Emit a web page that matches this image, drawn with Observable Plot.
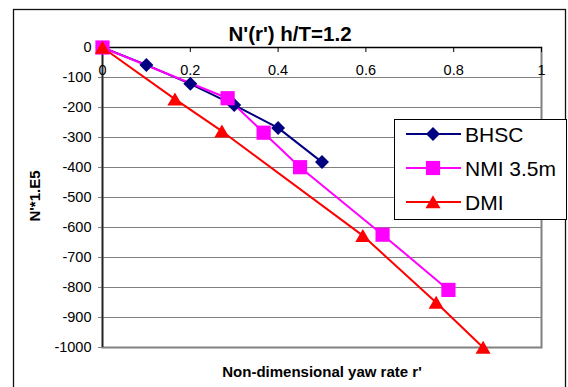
<!DOCTYPE html>
<html><head><meta charset="utf-8">
<script src="https://cdn.jsdelivr.net/npm/d3@7"></script>
<script src="https://cdn.jsdelivr.net/npm/@observablehq/plot@0.6"></script>
<style>body{margin:0;background:#fff} svg{display:block}</style>
</head><body><div id="chart"></div>
<script>
const title = "N'(r') h/T=1.2";
const xLabel = "Non-dimensional yaw rate r'";
const yLabel = "N'*1.E5";
const seriesNames = ["BHSC", "NMI 3.5m", "DMI"];
const seriesColors = ["#000080", "#FF00FF", "#FF0000"];
const seriesSymbols = ["diamond2", "square", "triangle2"];
const bhscX = [0, 0.1, 0.2, 0.3, 0.4, 0.5];
const bhscY = [0, -58, -121, -192, -268, -382];
const nmiX = [0, 0.285, 0.367, 0.45, 0.638, 0.788];
const nmiY = [0, -169, -284, -399, -624, -808];
const dmiX = [0, 0.165, 0.272, 0.593, 0.76, 0.867];
const dmiY = [0, -172, -279, -627, -850, -1000];
const xTicks = [0, 0.2, 0.4, 0.6, 0.8, 1];
const xTickLabels = ["0", "0.2", "0.4", "0.6", "0.8", "1"];
const yTicks = [0, -100, -200, -300, -400, -500, -600, -700, -800, -900, -1000];
const yTickLabels = ["0", "-100", "-200", "-300", "-400", "-500", "-600", "-700", "-800", "-900", "-1000"];

const seriesX = [bhscX, nmiX, dmiX];
const seriesY = [bhscY, nmiY, dmiY];
const series = seriesNames.map((name, k) => seriesX[k].map((x, i) => ({name, x, y: seriesY[k][i]})));
const font = "'Liberation Sans', Arial, sans-serif";
const markerR = [6.3, 8, 7.2];
const markerDy = [0, 0, 2];

const marks = [
  Plot.gridY(yTicks, {stroke: "#808080", strokeOpacity: 1}),
  Plot.frame({stroke: "#808080", strokeWidth: 2}),
  Plot.axisY(yTicks, {tickSize: 4, tickPadding: 7, tickFormat: (d) => yTickLabels[yTicks.indexOf(d)], fontSize: 14.5, label: null, stroke: "#808080", fill: "black"}),
  Plot.ruleY([0], {stroke: "black", strokeWidth: 1}),
  Plot.ruleX([0], {stroke: "#222", strokeWidth: 1.6}),
  Plot.ruleX(xTicks, {x: (d) => d, y1: () => 0, y2: () => 0, insetBottom: -5, stroke: "black"}),
  Plot.text(xTicks, {x: (d) => d, y: () => 0, dy: 23, text: (d, i) => xTickLabels[i], fontSize: 14.5, fill: "black"})
];
series.forEach((s, k) => {
  marks.push(Plot.line(s, {x: "x", y: "y", stroke: seriesColors[k], strokeWidth: 2}));
});
series.forEach((s, k) => {
  marks.push(Plot.dot(s, {x: "x", y: "y", symbol: seriesSymbols[k], r: markerR[k], fill: seriesColors[k], stroke: "none", dy: markerDy[k]}));
});

const chart = Plot.plot({
  width: 568, height: 387,
  marginLeft: 102, marginRight: 27, marginTop: 47, marginBottom: 40,
  x: {domain: [0, 1], axis: null},
  y: {domain: [-1000, 0], axis: null},
  style: {fontFamily: font, fontSize: "14.5px", background: "white", color: "black", overflow: "visible"},
  marks
});
document.getElementById("chart").appendChild(chart);

const svg = d3.select(chart);
svg.append("rect").attr("x", 13.5).attr("y", 9.5).attr("width", 552).attr("height", 400)
  .attr("fill", "none").attr("stroke", "#111").attr("stroke-width", 1.3);
svg.append("text").attr("x", 290).attr("y", 41).attr("text-anchor", "middle")
  .attr("font-family", font).attr("font-size", 20.5).attr("font-weight", "bold").attr("fill", "black").text(title);
svg.append("text").attr("transform", "translate(40,196) rotate(-90)").attr("text-anchor", "middle")
  .attr("font-family", font).attr("font-size", 15).attr("font-weight", "bold").attr("fill", "black").text(yLabel);
svg.append("text").attr("x", 322).attr("y", 377).attr("text-anchor", "middle")
  .attr("font-family", font).attr("font-size", 15).attr("font-weight", "bold").attr("fill", "black").text(xLabel);

const lg = svg.append("g");
lg.append("rect").attr("x", 394.5).attr("y", 119.5).attr("width", 172).attr("height", 100)
  .attr("fill", "white").attr("stroke", "black").attr("stroke-width", 1);
const rowY = [134, 168, 202];
const symMap = {diamond2: d3.symbolDiamond2, square: d3.symbolSquare, triangle2: d3.symbolTriangle2};
seriesNames.forEach((name, k) => {
  const yy = rowY[k];
  lg.append("line").attr("x1", 406).attr("x2", 461).attr("y1", yy).attr("y2", yy)
    .attr("stroke", seriesColors[k]).attr("stroke-width", 2);
  lg.append("path").attr("d", d3.symbol(symMap[seriesSymbols[k]], Math.PI * markerR[k] * markerR[k])())
    .attr("transform", `translate(433,${yy + markerDy[k]})`).attr("fill", seriesColors[k]);
  lg.append("text").attr("x", 465).attr("y", yy).attr("dy", "0.36em").attr("text-anchor", "start")
    .attr("font-family", font).attr("font-size", 21).attr("fill", "black").text(name);
});
</script>
</body></html>
